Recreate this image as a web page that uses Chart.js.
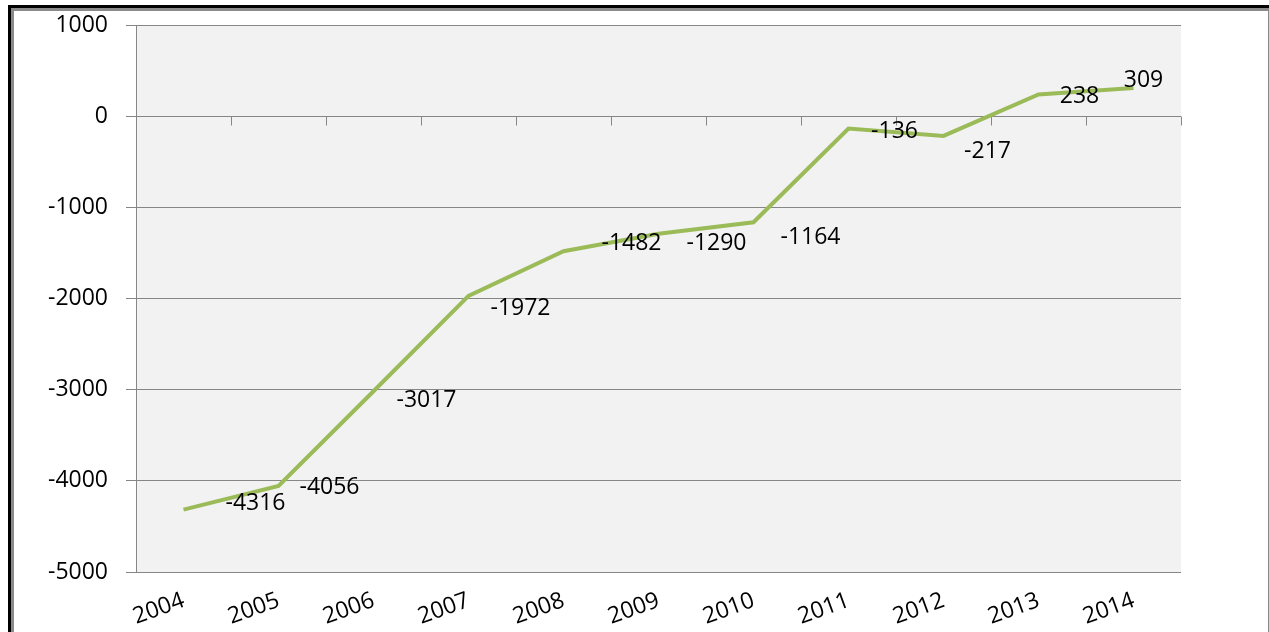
<!DOCTYPE html>
<html>
<head>
<meta charset="utf-8">
<script src="https://cdn.jsdelivr.net/npm/chart.js@4/dist/chart.umd.min.js"></script>
<style>
    html, body { margin: 0; padding: 0; background: #fff; overflow: hidden; }
    #wrap { position: relative; width: 1269px; height: 632px; }
    #chart { position: absolute; left: 0; top: 0; }
    .frame-outer { position: absolute; left: 8px; top: 5px; width: 1258px; height: 640px;
        border-top: 3px solid #000; border-left: 3px solid #000; border-right: 2px solid #000; }
    .frame-inner { position: absolute; left: 11px; top: 8px; width: 1254px; height: 640px;
        border-top: 3px solid #8a8a8a; border-left: 3px solid #8a8a8a; border-right: 2px solid #8a8a8a; }
</style>
</head>
<body>
<div id="wrap">
    <canvas id="chart" width="1269" height="632"></canvas>
    <div class="frame-outer"></div>
    <div class="frame-inner"></div>
</div>
<script>
// dados
const anos = ['2004', '2005', '2006', '2007', '2008', '2009', '2010', '2011', '2012', '2013', '2014'];
const saldo = [-4316, -4056, -3017, -1972, -1482, -1290, -1164, -136, -217, 238, 309];
const yTicks = [1000, 0, -1000, -2000, -3000, -4000, -5000];

// deslocamento dos rótulos em relação ao ponto (px), como no Excel
const labelOffsets = [[72, -6], [51, 2], [53, 9], [52, 13], [68, -8], [58, 10], [57, 15], [46, 3], [44, 16], [41, 2], [10, -8]];

const FONT = { family: "'Open Sans', sans-serif", size: 23 };
const GRID = '#868686';

// fundo cinza da área do gráfico
const plotBg = {
    id: 'plotBg',
    beforeDraw(chart) {
        const { ctx, chartArea: a } = chart;
        ctx.save();
        ctx.fillStyle = '#f2f2f2';
        ctx.fillRect(a.left, a.top, a.right - a.left, a.bottom - a.top);
        ctx.restore();
    }
};

// marcas do eixo horizontal cruzando em zero
const zeroTicks = {
    id: 'zeroTicks',
    beforeDatasetsDraw(chart) {
        const { ctx, scales: { x, y } } = chart;
        const y0 = Math.round(y.getPixelForValue(0)) + 0.5;
        ctx.save();
        ctx.strokeStyle = GRID;
        ctx.lineWidth = 1;
        ctx.beginPath();
        for (let i = 0; i <= anos.length; i++) {
            const px = Math.round(x.getPixelForValue(i - 0.5)) + 0.5;
            ctx.moveTo(px, y0);
            ctx.lineTo(px, y0 + 9);
        }
        ctx.stroke();
        ctx.restore();
    }
};

// rótulos de valores
const valueLabels = {
    id: 'valueLabels',
    afterDatasetsDraw(chart) {
        const { ctx } = chart;
        const meta = chart.getDatasetMeta(0);
        ctx.save();
        ctx.font = `${FONT.size}px ${FONT.family}`;
        ctx.fillStyle = '#000';
        ctx.textAlign = 'center';
        ctx.textBaseline = 'middle';
        meta.data.forEach((pt, i) => {
            const off = labelOffsets[i] || [0, 0];
            ctx.fillText(String(saldo[i]), pt.x + off[0], pt.y + off[1]);
        });
        ctx.restore();
    }
};

new Chart(document.getElementById('chart').getContext('2d'), {
    type: 'line',
    data: {
        labels: anos,
        datasets: [{
            data: saldo,
            borderColor: '#9bbb59',
            borderWidth: 4,
            pointRadius: 0,
            tension: 0,
            fill: false
        }]
    },
    options: {
        responsive: false,
        animation: false,
        devicePixelRatio: 1,
        layout: { padding: { top: 25, right: 88, bottom: 0, left: 0 } },
        plugins: { legend: { display: false }, tooltip: { enabled: false } },
        scales: {
            x: {
                type: 'category',
                offset: true,
                grid: { display: false, drawTicks: false },
                border: { display: false },
                ticks: { color: '#000', font: FONT, minRotation: 20, maxRotation: 20, padding: 15, autoSkip: false },
                afterFit: s => { s.height = 60; }
            },
            y: {
                min: Math.min(...yTicks),
                max: Math.max(...yTicks),
                afterBuildTicks: s => { s.ticks = yTicks.map(v => ({ value: v })); },
                grid: { color: GRID, lineWidth: 1, tickLength: 10 },
                border: { display: true, color: GRID },
                ticks: { color: '#000', font: FONT, padding: 18, callback: v => String(v) },
                afterFit: s => { s.width = 136; s.paddingTop = 0; s.paddingBottom = 0; }
            }
        }
    },
    plugins: [plotBg, zeroTicks, valueLabels]
});
</script>
</body>
</html>
